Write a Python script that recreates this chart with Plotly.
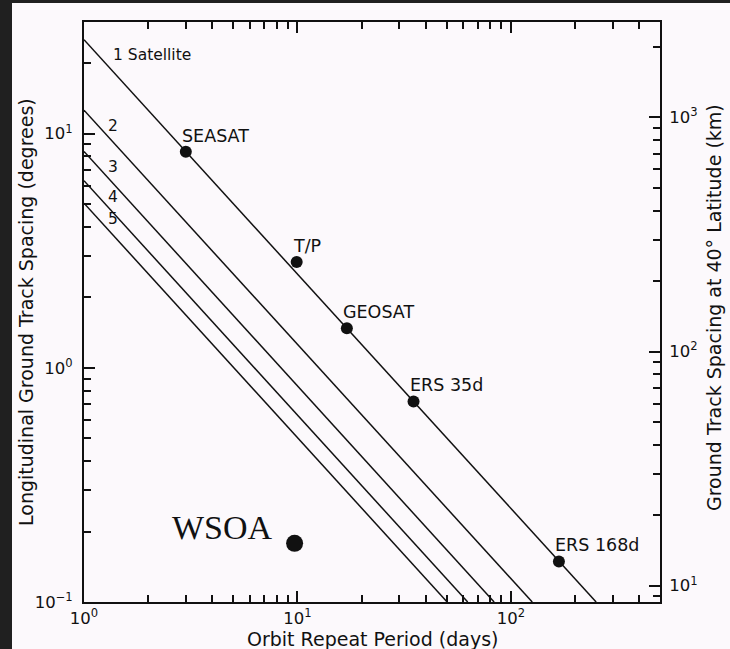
import math
import plotly.graph_objects as go

# Satellites flown (repeat period in days, ground-track spacing in degrees)
sat_names = ["SEASAT", "T/P", "GEOSAT", "ERS 35d", "ERS 168d"]
sat_repeat_days = [3.0, 9.92, 17.05, 35.0, 168.0]
sat_spacing_deg = [8.37, 2.83, 1.475, 0.719, 0.149]

# Wide-swath altimeter point
wsoa_repeat_days = 9.7
wsoa_spacing_deg = 0.178

# Constellation lines: number of satellites, spacing at a 1-day repeat,
# and the repeat period where the spacing drops to 0.1 degree
n_satellites = [1, 2, 3, 4, 5]
line_spacing_at_1day = [25.2, 12.6, 8.4, 6.3, 5.05]
line_days_at_0p1deg = [251.0, 126.0, 83.5, 62.8, 50.3]
line_floor_deg = 0.1

# Axis limits and ticks
x_min, x_max = 1.0, 500.0
y_min, y_max = 0.1, 30.0
km_per_deg_40 = 85.2  # 1 degree of longitude at 40 deg latitude
x_major = [1, 10, 100]
x_major_text = ["10<sup>0</sup>", "10<sup>1</sup>", "10<sup>2</sup>"]
x_minor = [2, 3, 4, 5, 6, 7, 8, 9, 20, 30, 40, 50, 60, 70, 80, 90, 200, 300, 400]
y_major = [0.1, 1, 10]
y_major_text = ["10<sup>\u22121</sup>", "10<sup>0</sup>", "10<sup>1</sup>"]
y_minor = [0.2, 0.3, 0.4, 0.5, 0.6, 0.7, 0.8, 0.9, 2, 3, 4, 5, 6, 7, 8, 9, 20, 30]
km_major = [10, 100, 1000]
km_major_text = ["10<sup>1</sup>", "10<sup>2</sup>", "10<sup>3</sup>"]
km_minor = [9, 20, 30, 40, 50, 60, 70, 80, 90, 200, 300, 400, 500, 600, 700, 800, 900, 2000]

FONT = "DejaVu Sans"
INK = "#111111"
BG = "#fcf9fc"
FRAME = "#202020"

W, H = 730, 649
ML, MR, MT, MB = 84, 70, 22, 47
PW, PH = W - ML - MR, H - MT - MB


def px_to_paper_x(px):
    return (px - ML) / PW


def px_to_paper_y(py):
    return (H - MB - py) / PH


fig = go.Figure()

for n, y0, x1 in zip(n_satellites, line_spacing_at_1day, line_days_at_0p1deg):
    fig.add_trace(go.Scatter(
        x=[x_min, x1], y=[y0, line_floor_deg], mode="lines",
        line=dict(color=INK, width=1.5), hoverinfo="skip", showlegend=False,
    ))

fig.add_trace(go.Scatter(
    x=sat_repeat_days, y=sat_spacing_deg, mode="markers",
    marker=dict(size=12, color=INK), hoverinfo="skip", showlegend=False,
))
fig.add_trace(go.Scatter(
    x=[wsoa_repeat_days], y=[wsoa_spacing_deg], mode="markers",
    marker=dict(size=17, color=INK), hoverinfo="skip", showlegend=False,
))

# Same satellites expressed in km on the right-hand axis (invisible; it only
# ties the km axis to the plot)
fig.add_trace(go.Scatter(
    x=sat_repeat_days, y=[s * km_per_deg_40 for s in sat_spacing_deg],
    yaxis="y2", mode="markers", marker=dict(size=1, opacity=0),
    hoverinfo="skip", showlegend=False,
))

annotations = []

# Satellite names, set just above-left of each dot
for name, d, s in zip(sat_names, sat_repeat_days, sat_spacing_deg):
    annotations.append(dict(
        x=math.log10(d), y=math.log10(s), xref="x", yref="y", text=name,
        showarrow=False, xanchor="left", yanchor="middle", xshift=-6, yshift=16,
        font=dict(family=FONT, size=17.5, color=INK),
    ))

# Constellation line labels
line_label_x = 1.372
line_label_y = [10.84, 7.19, 5.36, 4.34]
annotations.append(dict(
    x=math.log10(1.339), y=math.log10(21.6), xref="x", yref="y",
    text="1 Satellite", showarrow=False, xanchor="left", yanchor="middle",
    font=dict(family=FONT, size=15.5, color=INK),
))
for n, ly in zip(n_satellites[1:], line_label_y):
    annotations.append(dict(
        x=math.log10(line_label_x), y=math.log10(ly), xref="x", yref="y",
        text=str(n), showarrow=False, xanchor="center", yanchor="middle",
        font=dict(family=FONT, size=15.5, color=INK),
    ))

annotations.append(dict(
    x=math.log10(wsoa_repeat_days), y=math.log10(wsoa_spacing_deg),
    xref="x", yref="y", text="WSOA", showarrow=False,
    xanchor="right", yanchor="middle", xshift=-20, yshift=16,
    font=dict(family="Liberation Serif", size=34, color=INK),
))

# Axis titles
title_font = dict(family=FONT, size=19, color=INK)
annotations.append(dict(
    x=0.5, y=px_to_paper_y(639), xref="paper", yref="paper",
    text="Orbit Repeat Period (days)", showarrow=False,
    xanchor="center", yanchor="middle", font=title_font,
))
annotations.append(dict(
    x=px_to_paper_x(26), y=px_to_paper_y(312), xref="paper", yref="paper",
    text="Longitudinal Ground Track Spacing (degrees)", showarrow=False,
    textangle=-90, xanchor="center", yanchor="middle", font=title_font,
))
annotations.append(dict(
    x=px_to_paper_x(714), y=px_to_paper_y(308), xref="paper", yref="paper",
    text="Ground Track Spacing at 40\u00b0 Latitude (km)", showarrow=False,
    textangle=-90, xanchor="center", yanchor="middle", font=title_font,
))

# Dark frame along the left and top edges
shapes = [
    dict(type="rect", xref="paper", yref="paper", layer="above",
         x0=px_to_paper_x(0), x1=px_to_paper_x(12),
         y0=px_to_paper_y(H), y1=px_to_paper_y(0),
         fillcolor=FRAME, line=dict(width=0)),
    dict(type="rect", xref="paper", yref="paper", layer="above",
         x0=px_to_paper_x(0), x1=px_to_paper_x(W),
         y0=px_to_paper_y(3), y1=px_to_paper_y(0),
         fillcolor=FRAME, line=dict(width=0)),
]

tick_font = dict(family=FONT, size=16.5, color=INK)
axis_common = dict(
    type="log", showgrid=False, zeroline=False, showline=True,
    linecolor=INK, linewidth=2, ticks="inside", ticklen=11, tickwidth=1.5,
    tickcolor=INK, tickmode="array", tickfont=tick_font,
)

fig.update_layout(
    width=W, height=H,
    margin=dict(l=ML, r=MR, t=MT, b=MB),
    paper_bgcolor=BG, plot_bgcolor=BG,
    showlegend=False,
    xaxis=dict(
        **axis_common, range=[math.log10(x_min), math.log10(x_max)],
        tickvals=x_major, ticktext=x_major_text, mirror="ticks",
        minor=dict(tickmode="array", tickvals=x_minor, ticks="inside",
                   ticklen=7, tickwidth=1.5, tickcolor=INK, showgrid=False),
    ),
    yaxis=dict(
        **axis_common, range=[math.log10(y_min), math.log10(y_max)],
        tickvals=y_major, ticktext=y_major_text, ticklabelstandoff=6,
        minor=dict(tickmode="array", tickvals=y_minor, ticks="inside",
                   ticklen=7, tickwidth=1.5, tickcolor=INK, showgrid=False),
    ),
    yaxis2=dict(
        **axis_common, overlaying="y", side="right", anchor="x",
        range=[math.log10(y_min * km_per_deg_40), math.log10(y_max * km_per_deg_40)],
        tickvals=km_major, ticktext=km_major_text, ticklabelstandoff=4,
        minor=dict(tickmode="array", tickvals=km_minor, ticks="inside",
                   ticklen=7, tickwidth=1.5, tickcolor=INK, showgrid=False),
    ),
    annotations=annotations,
    shapes=shapes,
)

fig.write_html("out.html")
